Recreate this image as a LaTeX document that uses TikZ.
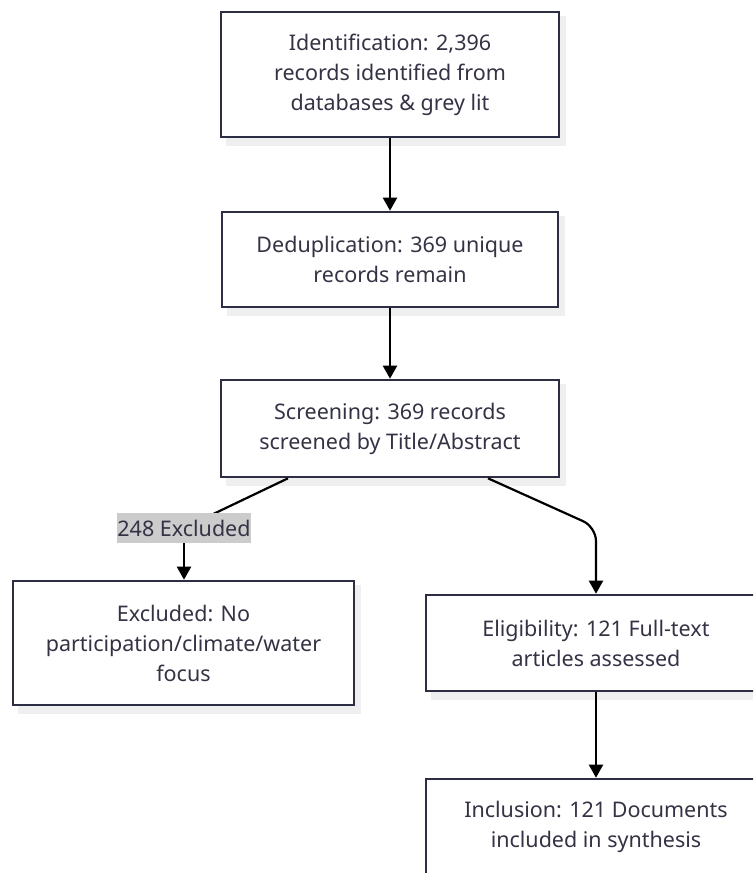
\documentclass[tikz,border=0pt]{standalone}
\usepackage{fontspec}
\setmainfont{Noto Sans}
\usetikzlibrary{arrows.meta,calc}

\definecolor{boxline}{HTML}{2E2E42}
\definecolor{boxtext}{HTML}{333345}
\definecolor{shadowgray}{HTML}{EFEFEF}
\definecolor{labelbg}{HTML}{CCCCCC}

\tikzset{
  x=1pt, y=-1pt,
  stage/.style={draw=boxline, line width=2.6pt, fill=white, align=center,
    text=boxtext, inner sep=0pt, font=\fontsize{21.5}{30}\selectfont,
    minimum width=#1},
  stage/.default=338pt,
  flow/.style={draw=black, line width=2.2pt,
    -{Triangle[length=13pt,width=14pt]}},
  edgelabel/.style={fill=labelbg, text=boxtext, inner sep=0pt,
    minimum width=132pt, minimum height=30pt, font=\fontsize{21.5}{24}\selectfont},
}

\begin{document}
\begin{tikzpicture}
\useasboundingbox (0,0) rectangle (753,873);
\clip (0,0) rectangle (753,873);
\fill[white] (0,0) rectangle (753,873);

% soft drop shadows behind the boxes
\foreach \cx/\cy/\w/\h in {390/74.5/338/125, 390/259.5/336/95, 390/428.5/338/97,
  183.5/643/341/124, 596/643/340/96, 596/827/340/96}{
  \fill[shadowgray] (\cx-\w/2+5, \cy-\h/2+4) rectangle (\cx+\w/2+7, \cy+\h/2+9);
}

\node[stage=338pt, minimum height=125pt] (ident) at (390,74.5)
  {Identification: 2,396\\records identified from\\databases \& grey lit};
\node[stage=336pt, minimum height=95pt] (dedup) at (390,259.5)
  {Deduplication: 369 unique\\records remain};
\node[stage=338pt, minimum height=97pt] (screen) at (390,428.5)
  {Screening: 369 records\\screened by Title/Abstract};
\node[stage=341pt, minimum height=124pt] (excl) at (183.5,643)
  {Excluded: No\\participation/climate/water\\focus};
\node[stage=340pt, minimum height=96pt] (elig) at (596,643)
  {Eligibility: 121 Full-text\\articles assessed};
\node[stage=340pt, minimum height=96pt] (incl) at (596,827)
  {Inclusion: 121 Documents\\included in synthesis};

% main column
\draw[flow] (ident) -- (dedup);
\draw[flow] (dedup) -- (screen);

% excluded branch, passing through its label
\coordinate (exclstart) at ($(screen.south)+(-102,0)$);
\coordinate (exclbend) at (184,528);
\draw[draw=black, line width=2.2pt] (exclstart) -- (exclbend);
\draw[flow] (exclbend) -- (excl.north -| exclbend);
\node[edgelabel] (exlabel) at (exclbend) {248 Excluded};

% eligibility branch
\coordinate (eligstart) at ($(screen.south)+(98,0)$);
\coordinate (eligbend) at (596,527);
\draw[flow, rounded corners=14pt] (eligstart) -- (eligbend) -- (elig.north);

\draw[flow] (elig) -- (incl);
\end{tikzpicture}
\end{document}
